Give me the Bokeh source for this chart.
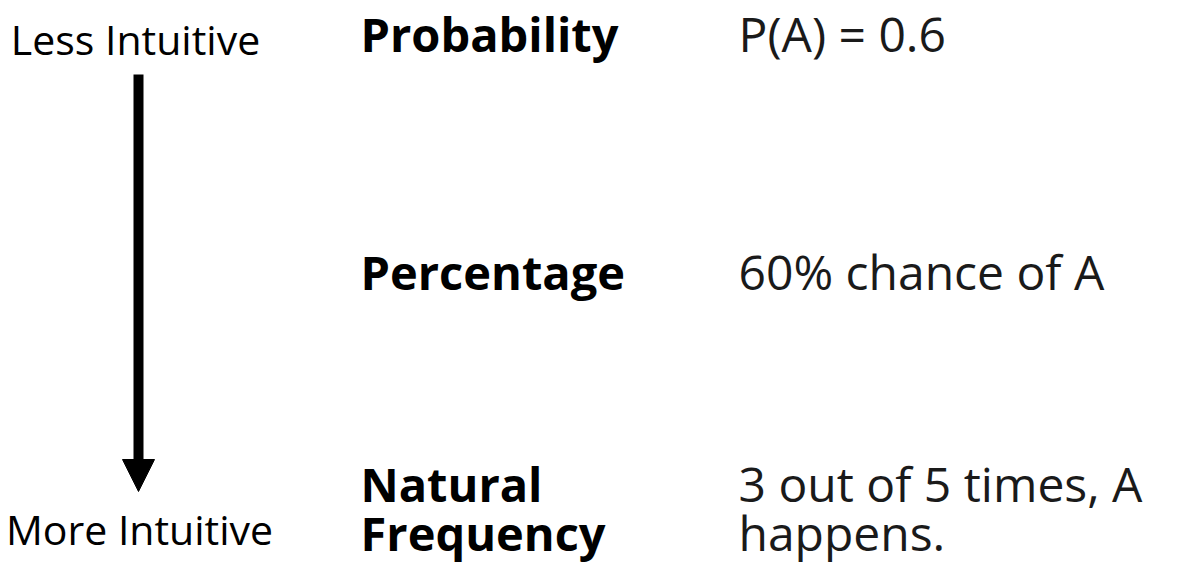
from bokeh.plotting import figure
from bokeh.models import Range1d, Arrow, NormalHead
from bokeh.core.properties import value
from bokeh.embed import file_html
from bokeh.resources import INLINE

# content
scale_top = ["Less Intuitive"]
scale_bottom = ["More Intuitive"]
formats = ["Probability", "Percentage", "Natural\nFrequency"]
examples = ["P(A) = 0.6", "60% chance of A", "3 out of 5 times, A\nhappens."]
rank = [0, 1, 2]  # 0 = least intuitive

W, H = 1183, 564
p = figure(width=W, height=H, output_backend="svg", toolbar_location=None,
           x_range=Range1d(0, W), y_range=Range1d(H, 0),
           min_border=0, outline_line_color=None)
p.axis.visible = False
p.grid.visible = False
p.background_fill_color = "white"
p.border_fill_color = "white"

FONT = value("Open Sans")

# vertical centre of the first line of each row, in screen px
row_mid = {0: 33, 1: 271, 2: 483}
line_gap = 49

F_SIZE, E_SIZE, S_SIZE = 47, 48, 41


def lines_for(texts):
    ys_t, tt = [], []
    for r, t in zip(rank, texts):
        for k, line in enumerate(t.split("\n")):
            ys_t.append(row_mid[r] + k * line_gap)
            tt.append(line)
    return ys_t, tt


ys_f, tf = lines_for(formats)
p.text(x=[360] * len(tf), y=ys_f, text=tf, text_font=FONT, text_font_size=f"{F_SIZE}px",
       text_font_style="bold", text_baseline="middle", text_align="left",
       text_color="black")

ys_e, te = lines_for(examples)
p.text(x=[738] * len(te), y=ys_e, text=te, text_font=FONT, text_font_size=f"{E_SIZE}px",
       text_font_style="normal", text_baseline="middle", text_align="left",
       text_color="#1a1a1a")

p.text(x=[135], y=[38], text=scale_top, text_font=FONT,
       text_font_size=f"{S_SIZE}px", text_baseline="middle", text_align="center",
       text_color="black")
p.text(x=[139], y=[528], text=scale_bottom, text_font=FONT,
       text_font_size=f"{S_SIZE}px", text_baseline="middle", text_align="center",
       text_color="black")

p.add_layout(Arrow(x_start=138, y_start=74, x_end=138, y_end=491,
                   line_width=10, line_color="black",
                   end=NormalHead(size=32, fill_color="black", line_color="black",
                                  line_width=1)))

open("out.html", "w").write(file_html(p, INLINE))
